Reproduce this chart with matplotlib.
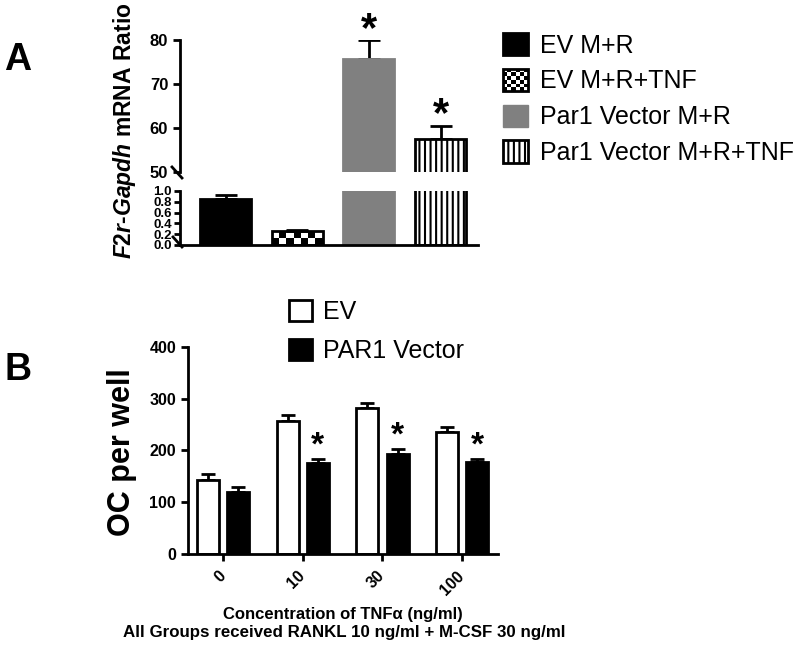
import matplotlib
matplotlib.use('Agg')
import matplotlib.pyplot as plt
from matplotlib.patches import Rectangle, Patch
from matplotlib.legend_handler import HandlerBase
import numpy as np

plt.rcParams['font.family'] = ['Liberation Sans', 'DejaVu Sans']
plt.rcParams['hatch.linewidth'] = 1.5
plt.rcParams['mathtext.fontset'] = 'custom'
plt.rcParams['mathtext.it'] = 'Liberation Sans:italic:bold'
plt.rcParams['mathtext.rm'] = 'Liberation Sans:bold'
plt.rcParams['mathtext.bf'] = 'Liberation Sans:bold'

# panel A data
a_labels = ['EV M+R', 'EV M+R+TNF', 'Par1 Vector M+R', 'Par1 Vector M+R+TNF']
a_means = [0.86, 0.26, 75.7, 57.5]
a_err = [0.07, 0.02, 4.2, 3.0]
a_sig = [False, False, True, True]

# panel B data
b_conc = ['0', '10', '30', '100']
b_ev = [143, 257, 282, 236]
b_ev_err = [11, 12, 9, 10]
b_par1 = [120, 176, 193, 177]
b_par1_err = [9, 8, 10, 7]
b_sig = [False, True, True, True]

GRAY = '#808080'


def checker(ax, x0, y0, w, h, nx, ny, **kw):
    cw, ch = w / nx, h / ny
    for i in range(nx):
        for j in range(ny):
            if (i + j) % 2 == 0:
                ax.add_patch(Rectangle((x0 + i * cw, y0 + j * ch), cw, ch,
                                       facecolor='black', edgecolor='none', **kw))


class HandlerChecker(HandlerBase):
    def create_artists(self, legend, orig_handle, xdescent, ydescent,
                       width, height, fontsize, trans):
        arts = []
        n = 6
        cw, ch = width / n, height / n
        for i in range(n):
            for j in range(n):
                if (i + j) % 2 == 0:
                    arts.append(Rectangle((-xdescent + i * cw, -ydescent + j * ch), cw, ch,
                                          facecolor='black', edgecolor='none', transform=trans))
        arts.append(Rectangle((-xdescent, -ydescent), width, height, facecolor='none',
                              edgecolor='black', lw=2, transform=trans))
        return arts


fig = plt.figure(figsize=(8, 6.5), dpi=100)

# ---------- panel A (broken axis) ----------
axu = fig.add_axes([0.225, 0.7354, 0.3725, 0.2031])
axl = fig.add_axes([0.225, 0.6231, 0.3725, 0.0831])

xa = np.arange(len(a_means))
faces = ['black', 'none', GRAY, 'white']
edges = ['black', 'black', GRAY, 'black']
hatches = [None, None, None, '|||']

for ax in (axu, axl):
    bars = ax.bar(xa, a_means, width=0.71, color=faces, edgecolor=edges, linewidth=2, zorder=2)
    for b, h in zip(bars, hatches):
        if h:
            b.set_hatch(h)
    b2 = bars[1]
    checker(ax, b2.get_x(), 0, b2.get_width(), b2.get_height(), 7, 2, zorder=1.5)
    ax.errorbar(xa, a_means, yerr=[np.zeros(len(a_err)), a_err], fmt='none', ecolor='black',
                elinewidth=2, capsize=8, capthick=2, zorder=1)
    ax.set_xlim(-0.635, 3.523)
    ax.set_xticks([])
    for s in ['top', 'right']:
        ax.spines[s].set_visible(False)
    ax.spines['left'].set_linewidth(2)
    ax.spines['bottom'].set_linewidth(2)
    ax.tick_params(axis='y', width=2, length=5)

axu.spines['bottom'].set_visible(False)
axu.set_ylim(50, 80)
axu.set_yticks([50, 60, 70, 80])
axu.set_yticklabels(['50', '60', '70', '80'], fontsize=12, fontweight='bold')

axl.set_ylim(0, 1)
axl.set_yticks(np.arange(0, 1.01, 0.2))
axl.set_yticklabels(['%.1f' % v for v in np.arange(0, 1.01, 0.2)], fontsize=9.5, fontweight='bold')
axl.tick_params(axis='y', length=4, pad=2)

for xi, m, e, s in zip(xa, a_means, a_err, a_sig):
    if s:
        axu.annotate('*', (xi, m + e), xytext=(0, -7), textcoords='offset points',
                     ha='center', va='bottom', fontsize=30, fontweight='bold', annotation_clip=False)

# break marks
axu.plot([-8 / 298, 2 / 298], [5 / 132, -6 / 132], transform=axu.transAxes,
         color='black', lw=2, clip_on=False)
axl.plot([-7 / 298, 2 / 298], [8 / 54, -2 / 54], transform=axl.transAxes,
         color='black', lw=2, clip_on=False)

fig.text(125 / 800, 1 - 131 / 650, r'$\it{F2r}$-$\it{Gapdh}$ mRNA Ratio', rotation=90,
         fontsize=16.5, fontweight='bold', ha='center', va='center')

chk = Patch(facecolor='white', edgecolor='black')
a_handles = [Patch(facecolor='black', edgecolor='black', lw=2), chk,
             Patch(facecolor=GRAY, edgecolor=GRAY),
             Patch(facecolor='white', edgecolor='black', hatch='|||', lw=2)]
fig.legend(a_handles, a_labels, loc='upper left', bbox_to_anchor=(503 / 800, 1 - 33 / 650),
           frameon=False, fontsize=18, handlelength=1.0, handleheight=1.0, handletextpad=0.5,
           labelspacing=0.44, borderpad=0, borderaxespad=0,
           handler_map={chk: HandlerChecker()})

fig.text(18 / 800, 1 - 60 / 650, 'A', fontsize=27, fontweight='bold', ha='center', va='center')

# ---------- panel B ----------
axb = fig.add_axes([0.235, 0.1477, 0.3875, 0.3189])
xb = np.arange(len(b_conc))
off, bw = 0.19, 0.275
axb.bar(xb - off, b_ev, width=bw, color='white', edgecolor='black', linewidth=2, zorder=2)
axb.bar(xb + off, b_par1, width=bw, color='black', edgecolor='black', linewidth=2, zorder=2)
axb.errorbar(xb - off, b_ev, yerr=[np.zeros(4), b_ev_err], fmt='none', ecolor='black',
             elinewidth=2, capsize=5, capthick=2, zorder=1)
axb.errorbar(xb + off, b_par1, yerr=[np.zeros(4), b_par1_err], fmt='none', ecolor='black',
             elinewidth=2, capsize=5, capthick=2, zorder=1)
for xi, m, e, s in zip(xb, b_par1, b_par1_err, b_sig):
    if s:
        axb.annotate('*', (xi + off, m + e), xytext=(0, -2), textcoords='offset points',
                     ha='center', va='bottom', fontsize=24, fontweight='bold')

axb.set_xlim(-0.44, 3.45)
axb.set_ylim(0, 400)
axb.set_yticks([0, 100, 200, 300, 400])
axb.set_yticklabels(['0', '100', '200', '300', '400'], fontsize=11.5, fontweight='bold')
axb.set_xticks(xb)
axb.set_xticklabels(b_conc, rotation=45, ha='right', va='center', rotation_mode='anchor',
                    fontsize=11.5, fontweight='bold')
for s in ['top', 'right']:
    axb.spines[s].set_visible(False)
axb.spines['left'].set_linewidth(2)
axb.spines['bottom'].set_linewidth(2)
axb.tick_params(width=2, length=5)
axb.tick_params(axis='x', pad=9)

fig.text(122 / 800, 1 - 452 / 650, 'OC per well', rotation=90, fontsize=22,
         fontweight='bold', ha='center', va='center')
fig.text(343 / 800, 1 - 614 / 650, 'Concentration of TNF\u03b1 (ng/ml)', fontsize=12,
         fontweight='bold', ha='center', va='center')
fig.text(344 / 800, 1 - 632 / 650, 'All Groups received RANKL 10 ng/ml + M-CSF 30 ng/ml',
         fontsize=12.2, fontweight='bold', ha='center', va='center')

b_handles = [Patch(facecolor='white', edgecolor='black', lw=2),
             Patch(facecolor='black', edgecolor='black', lw=2)]
fig.legend(b_handles, ['EV', 'PAR1 Vector'], loc='upper left',
           bbox_to_anchor=(289 / 800, 1 - 300 / 650), frameon=False, fontsize=18,
           handlelength=0.92, handleheight=0.92, handletextpad=0.45, labelspacing=0.6,
           borderpad=0, borderaxespad=0)

fig.text(18 / 800, 1 - 370 / 650, 'B', fontsize=27, fontweight='bold', ha='center', va='center')

fig.savefig('out.png', dpi=100)
plt.close(fig)
